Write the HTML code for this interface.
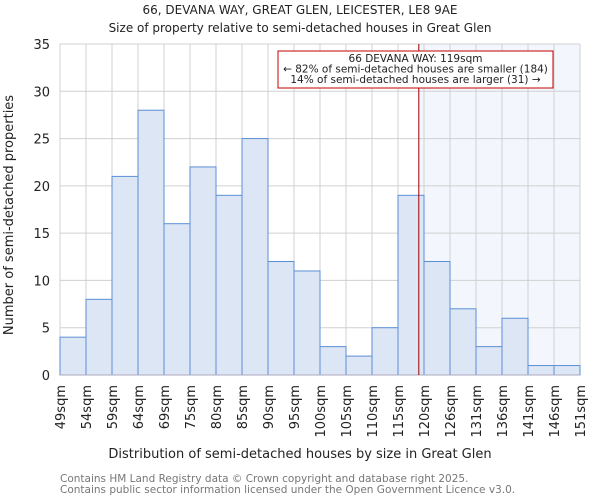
<!DOCTYPE html>
<html><head><meta charset="utf-8"><style>
body{margin:0;background:#fff;font-family:"DejaVu Sans","Liberation Sans",sans-serif;}
svg text{font-family:"DejaVu Sans","Liberation Sans",sans-serif;fill:#222;}
</style></head><body>
<svg id="chart" width="600" height="500" xmlns="http://www.w3.org/2000/svg">
<text x="300" y="14" text-anchor="middle" font-size="12">66, DEVANA WAY, GREAT GLEN, LEICESTER, LE8 9AE</text>
<text x="300" y="32" text-anchor="middle" font-size="12">Size of property relative to semi-detached houses in Great Glen</text>
<g id="grid"></g><g id="bars"></g><g id="axes"></g>
<text transform="translate(13,215) rotate(-90)" text-anchor="middle" font-size="13">Number of semi-detached properties</text>
<text x="300" y="458" text-anchor="middle" font-size="13">Distribution of semi-detached houses by size in Great Glen</text>
<text x="60" y="482" font-size="10.5" style="fill:#777">Contains HM Land Registry data © Crown copyright and database right 2025.</text>
<text x="60" y="493" font-size="10.5" style="fill:#777">Contains public sector information licensed under the Open Government Licence v3.0.</text>
</svg>
<script>
const counts=[4,8,21,28,16,22,19,25,12,11,3,2,5,19,12,7,3,6,1,1];
const binLabels=["49sqm","54sqm","59sqm","64sqm","69sqm","75sqm","80sqm","85sqm","90sqm","95sqm","100sqm","105sqm","110sqm","115sqm","120sqm","126sqm","131sqm","136sqm","141sqm","146sqm","151sqm"];
const binEdges=[49,54,59,64,69,75,80,85,90,95,100,105,110,115,120,126,131,136,141,146,151];
const yTicks=[0,5,10,15,20,25,30,35];
const property=[119];
const NS="http://www.w3.org/2000/svg";
const L=60,R=580,T=44,B=375,YMAX=35;
const bw=(R-L)/counts.length;
const xi=i=>L+i*bw;
const y=v=>B-v/YMAX*(B-T);
function xv(v){for(let i=0;i<binEdges.length-1;i++){if(v>=binEdges[i]&&v<=binEdges[i+1])return xi(i)+(v-binEdges[i])/(binEdges[i+1]-binEdges[i])*bw;}return R;}
function mk(t,a,p){const e=document.createElementNS(NS,t);for(const k in a)e.setAttribute(k,a[k]);p.appendChild(e);return e;}
const grid=document.getElementById('grid'),bars=document.getElementById('bars'),axes=document.getElementById('axes');
const px=xv(property[0]);
const shade=mk('rect',{x:px,y:T,width:R-px,height:B-T,fill:'#f3f6fd'},grid);


yTicks.forEach(t=>{const l=mk('line',{x1:L,x2:R,y1:y(t),y2:y(t),stroke:'#d0d0d0'},grid);


const tx=mk('text',{x:L-10,y:y(t)+5,'text-anchor':'end','font-size':'13'},axes);tx.textContent=t;

});
binLabels.forEach((s,i)=>{const l=mk('line',{x1:xi(i),x2:xi(i),y1:T,y2:B,stroke:'#d0d0d0'},grid);


const tx=mk('text',{transform:`translate(${xi(i)+5},${B+10}) rotate(-90)`,'text-anchor':'end','font-size':'13'},axes);tx.textContent=s;

});
counts.forEach((c,i)=>{const r=mk('rect',{x:xi(i),y:y(c),width:bw,height:B-y(c),fill:'#dde6f4',stroke:'#5b8fd6','stroke-width':1},bars);

});
const ax=mk('line',{x1:L,x2:R,y1:B,y2:B,stroke:'#aab','stroke-width':1},axes);


const pl=mk('line',{x1:px,x2:px,y1:T,y2:B,stroke:'#990000','stroke-width':1},axes);


const g=mk('g',{},axes);


mk('rect',{x:278,y:51,width:275,height:37,fill:'#fff',stroke:'#c00000','stroke-width':1},g);
["66 DEVANA WAY: 119sqm","← 82% of semi-detached houses are smaller (184)","14% of semi-detached houses are larger (31) →"].forEach((s,i)=>{const t=mk('text',{x:415.5,y:62+i*10.5,'text-anchor':'middle','font-size':'10.5'},g);t.textContent=s;

});
</script>
</body></html>
